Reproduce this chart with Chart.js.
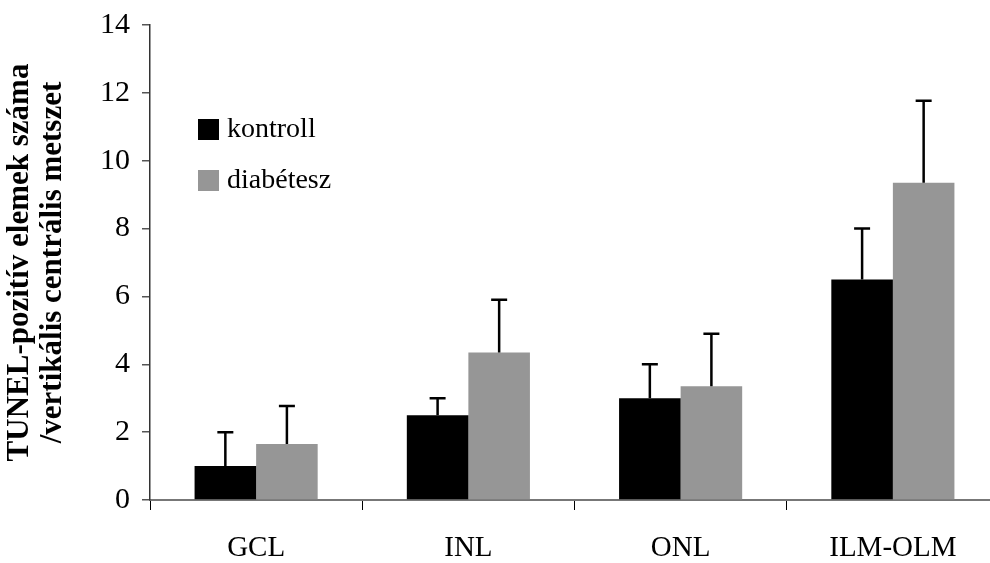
<!DOCTYPE html>
<html>
<head>
<meta charset="utf-8">
<script src="https://cdn.jsdelivr.net/npm/chart.js@4/dist/chart.umd.min.js"></script>
<style>
  html, body { margin: 0; padding: 0; background: #fff; overflow: hidden; }
  #wrap { width: 1000px; height: 563px; }
</style>
</head>
<body>
<div id="wrap"><canvas id="chart"></canvas></div>
<script>
// data
const categories = ['GCL', 'INL', 'ONL', 'ILM-OLM'];
const kontroll = [1.0, 2.5, 3.0, 6.5];
const kontrollErr = [1.0, 0.5, 1.0, 1.5];
const diabetesz = [1.65, 4.35, 3.35, 9.35];
const diabeteszErr = [1.12, 1.55, 1.55, 2.42];
const yTitle = ['TUNEL-pozitív elemek száma', '/vertikális centrális metszet'];

const serif = '"Liberation Serif", "Times New Roman", serif';

// upward-only error bars
const errorBars = {
    id: 'errorBars',
    afterDatasetsDraw(chart) {
        const ctx = chart.ctx;
        const y = chart.scales.y;
        ctx.save();
        ctx.strokeStyle = '#000';
        ctx.lineWidth = 2.5;
        chart.data.datasets.forEach((ds, i) => {
            const meta = chart.getDatasetMeta(i);
            meta.data.forEach((bar, j) => {
                const top = y.getPixelForValue(ds.data[j] + ds.errors[j]);
                ctx.beginPath();
                ctx.moveTo(bar.x, bar.y);
                ctx.lineTo(bar.x, top);
                ctx.moveTo(bar.x - 8, top);
                ctx.lineTo(bar.x + 8, top);
                ctx.stroke();
            });
        });
        ctx.restore();
    }
};

// legend drawn inside the plot, stacked
const innerLegend = {
    id: 'innerLegend',
    afterDraw(chart) {
        const ctx = chart.ctx;
        ctx.save();
        ctx.font = '28px ' + serif;
        ctx.textBaseline = 'middle';
        chart.data.datasets.forEach((ds, i) => {
            const cy = 129 + i * 51;
            ctx.fillStyle = ds.backgroundColor;
            ctx.fillRect(198, cy - 10, 21, 21);
            ctx.fillStyle = '#000';
            ctx.fillText(ds.label, 227, cy + 1);
        });
        ctx.restore();
    }
};

new Chart(document.getElementById('chart'), {
    type: 'bar',
    data: {
        labels: categories,
        datasets: [
            { label: 'kontroll', data: kontroll, errors: kontrollErr, backgroundColor: '#000000' },
            { label: 'diabétesz', data: diabetesz, errors: diabeteszErr, backgroundColor: '#969696' }
        ]
    },
    options: {
        responsive: true,
        maintainAspectRatio: false,
        animation: false,
        layout: { padding: { top: 25, right: 1, left: 0, bottom: 0 } },
        datasets: { bar: { categoryPercentage: 0.58, barPercentage: 1.0 } },
        plugins: {
            legend: { display: false },
            tooltip: { enabled: false }
        },
        scales: {
            x: {
                afterFit: s => { s.height = 63; s.paddingRight = 0; },
                grid: { drawOnChartArea: false, tickLength: 10, color: '#000', lineWidth: 1 },
                border: { color: '#777', width: 2 },
                ticks: { color: '#000', font: { family: serif, size: 29 }, padding: 21 }
            },
            y: {
                min: 0,
                max: 14,
                afterFit: s => { s.width = 150; s.paddingTop = 0; s.paddingBottom = 0; },
                grid: { drawOnChartArea: false, tickLength: 8, color: '#555', lineWidth: 1.5 },
                border: { color: '#333', width: 1.5 },
                ticks: { stepSize: 2, color: '#000', font: { family: serif, size: 30 }, padding: 12 },
                title: {
                    display: true,
                    text: yTitle,
                    color: '#000',
                    font: { family: serif, size: 31, weight: 'bold', lineHeight: 1.05 },
                    padding: { top: 4, bottom: 0 }
                }
            }
        }
    },
    plugins: [errorBars, innerLegend]
});
</script>
</body>
</html>
